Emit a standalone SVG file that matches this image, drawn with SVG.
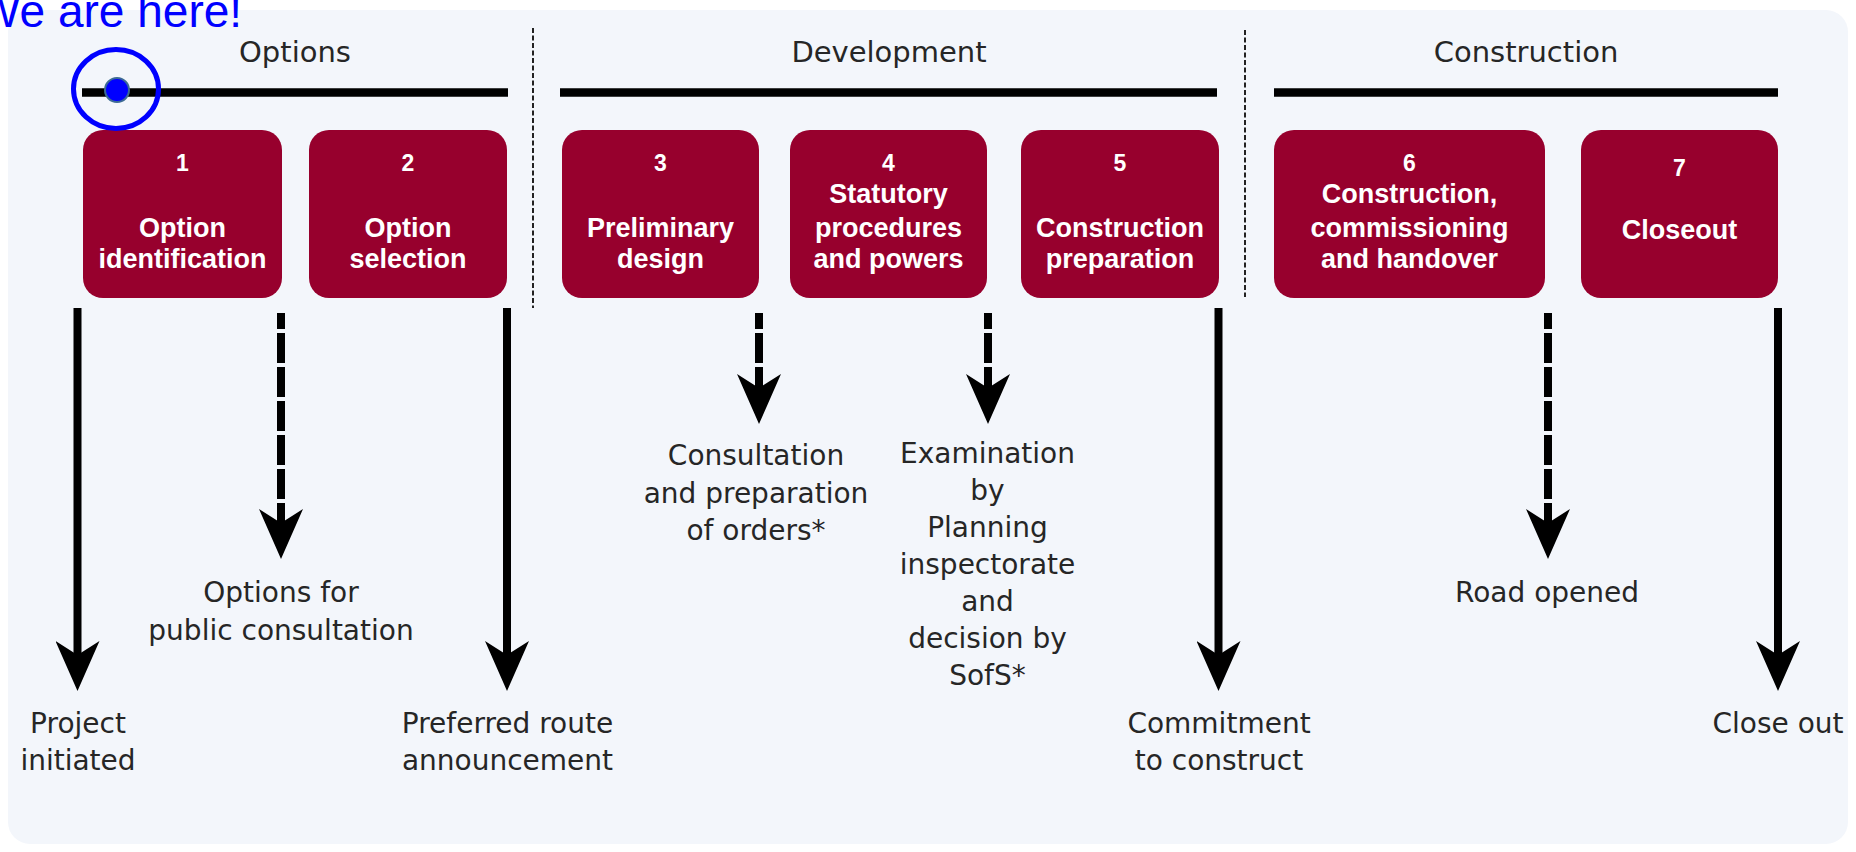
<svg xmlns="http://www.w3.org/2000/svg" width="1856" height="852" viewBox="0 0 1856 852">
<style>
.hdr{font-family:"DejaVu Sans","Liberation Sans",sans-serif;font-size:29px;fill:#262626;text-anchor:middle}
.lbl{font-family:"DejaVu Sans","Liberation Sans",sans-serif;font-size:28px;fill:#262626;text-anchor:middle}
.box{fill:#97002d}
.bt{font-family:"Liberation Sans",Arial,sans-serif;font-weight:bold;font-size:27px;fill:#fff;text-anchor:middle}
.bn{font-family:"Liberation Sans",Arial,sans-serif;font-weight:bold;font-size:23px;fill:#fff;text-anchor:middle}
.bar{stroke:#000;stroke-width:8.5}
.div{stroke:#222;stroke-width:2;stroke-dasharray:5 2.5}
.sol{stroke:#000;stroke-width:8;fill:none;marker-end:url(#ah)}
.dsh{stroke:#000;stroke-width:8;fill:none;stroke-dasharray:30 4;stroke-dashoffset:14;marker-end:url(#ah)}
</style>
<defs>
<marker id="ah" markerUnits="userSpaceOnUse" viewBox="0 -22 50 44" markerWidth="50" markerHeight="44" refX="14" refY="0" orient="auto">
<path d="M0,-22 L50,0 L0,22 L14,0 Z" fill="#000"/>
</marker>
</defs>
<rect x="8" y="10" width="1840" height="834" rx="22" fill="#f3f6fb"/>

<g id="phase-options">
<text class="hdr" x="295" y="62">Options</text>
<line class="bar" x1="82" y1="92.5" x2="508" y2="92.5"/>
</g>
<g id="phase-development">
<text class="hdr" x="889" y="62">Development</text>
<line class="bar" x1="560" y1="92.5" x2="1217" y2="92.5"/>
</g>
<g id="phase-construction">
<text class="hdr" x="1526" y="62">Construction</text>
<line class="bar" x1="1274" y1="92.5" x2="1778" y2="92.5"/>
</g>
<g id="dividers">
<line class="div" x1="533" y1="28" x2="533" y2="308"/>
<line class="div" x1="1245" y1="30" x2="1245" y2="297"/>
</g>

<g id="stage1">
<rect class="box" x="83" y="130" width="199" height="168" rx="20"/>
<text class="bn" x="182.5" y="171">1</text>
<text class="bt" x="182.5" y="237">Option</text>
<text class="bt" x="182.5" y="268">identification</text>
</g>
<g id="stage2">
<rect class="box" x="309" y="130" width="198" height="168" rx="20"/>
<text class="bn" x="408" y="171">2</text>
<text class="bt" x="408" y="237">Option</text>
<text class="bt" x="408" y="268">selection</text>
</g>
<g id="stage3">
<rect class="box" x="562" y="130" width="197" height="168" rx="20"/>
<text class="bn" x="660.5" y="171">3</text>
<text class="bt" x="660.5" y="237">Preliminary</text>
<text class="bt" x="660.5" y="268">design</text>
</g>
<g id="stage4">
<rect class="box" x="790" y="130" width="197" height="168" rx="20"/>
<text class="bn" x="888.5" y="171">4</text>
<text class="bt" x="888.5" y="203">Statutory</text>
<text class="bt" x="888.5" y="237">procedures</text>
<text class="bt" x="888.5" y="268">and powers</text>
</g>
<g id="stage5">
<rect class="box" x="1021" y="130" width="198" height="168" rx="20"/>
<text class="bn" x="1120" y="171">5</text>
<text class="bt" x="1120" y="237">Construction</text>
<text class="bt" x="1120" y="268">preparation</text>
</g>
<g id="stage6">
<rect class="box" x="1274" y="130" width="271" height="168" rx="20"/>
<text class="bn" x="1409.5" y="171">6</text>
<text class="bt" x="1409.5" y="203">Construction,</text>
<text class="bt" x="1409.5" y="237">commissioning</text>
<text class="bt" x="1409.5" y="268">and handover</text>
</g>
<g id="stage7">
<rect class="box" x="1581" y="130" width="197" height="168" rx="20"/>
<text class="bn" x="1679.5" y="176">7</text>
<text class="bt" x="1679.5" y="239">Closeout</text>
</g>

<g id="connectors">
<line class="sol" x1="77.5" y1="308" x2="77.5" y2="655"/>
<line class="dsh" x1="281" y1="313" x2="281" y2="523"/>
<line class="sol" x1="507" y1="308" x2="507" y2="655"/>
<line class="dsh" x1="759" y1="313" x2="759" y2="388"/>
<line class="dsh" x1="988" y1="313" x2="988" y2="388"/>
<line class="sol" x1="1218.5" y1="308" x2="1218.5" y2="655"/>
<line class="dsh" x1="1548" y1="313" x2="1548" y2="523"/>
<line class="sol" x1="1778" y1="308" x2="1778" y2="655"/>
</g>

<g id="milestone-project-initiated">
<text class="lbl" x="78" y="733">Project</text>
<text class="lbl" x="78" y="770">initiated</text>
</g>
<g id="milestone-options-consultation">
<text class="lbl" x="281" y="602">Options for</text>
<text class="lbl" x="281" y="640">public consultation</text>
</g>
<g id="milestone-preferred-route">
<text class="lbl" x="507.5" y="733">Preferred route</text>
<text class="lbl" x="507.5" y="770">announcement</text>
</g>
<g id="milestone-consultation-orders">
<text class="lbl" x="756" y="465">Consultation</text>
<text class="lbl" x="756" y="503">and preparation</text>
<text class="lbl" x="756" y="540">of orders*</text>
</g>
<g id="milestone-examination">
<text class="lbl" x="987.5" y="463">Examination</text>
<text class="lbl" x="987.5" y="500">by</text>
<text class="lbl" x="987.5" y="537">Planning</text>
<text class="lbl" x="987.5" y="574">inspectorate</text>
<text class="lbl" x="987.5" y="611">and</text>
<text class="lbl" x="987.5" y="648">decision by</text>
<text class="lbl" x="987.5" y="685">SofS*</text>
</g>
<g id="milestone-commitment">
<text class="lbl" x="1219" y="733">Commitment</text>
<text class="lbl" x="1219" y="770">to construct</text>
</g>
<g id="milestone-road-opened">
<text class="lbl" x="1547" y="602">Road opened</text>
</g>
<g id="milestone-close-out">
<text class="lbl" x="1778" y="733">Close out</text>
</g>

<g id="we-are-here">
<text x="-23" y="27" font-family="Liberation Sans, Arial, sans-serif" font-size="46" fill="#0000ff">We are here!</text>
<ellipse cx="116" cy="89" rx="42.5" ry="39.5" fill="none" stroke="#0000ff" stroke-width="5"/>
<circle cx="117" cy="90" r="12" fill="#0000ff" stroke="#3d6b94" stroke-width="2"/>
</g>
</svg>
